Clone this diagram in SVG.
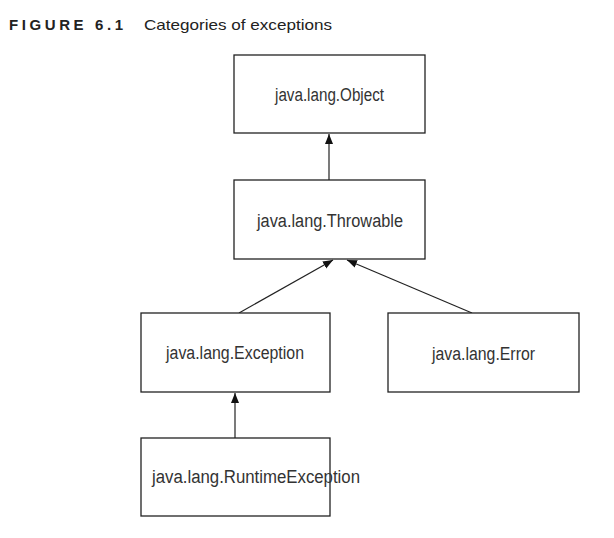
<svg xmlns="http://www.w3.org/2000/svg" width="614" height="538" viewBox="0 0 614 538">
<defs>
<style>
.box{fill:#fff;stroke:#222;stroke-width:1.3}
.lbl{font-family:"Liberation Sans",Arial,sans-serif;font-size:18px;fill:#333;text-anchor:start}
.edge{stroke:#222;stroke-width:1.2;fill:none}
.ttl{font-family:"Liberation Sans",Arial,sans-serif;fill:#222}
</style>
<marker id="ah" markerUnits="userSpaceOnUse" markerWidth="10" markerHeight="10" viewBox="0 0 10 10" refX="10" refY="5" orient="auto">
<path d="M0,1 L10,5 L0,9 Z" fill="#111"/>
</marker>
</defs>
<rect width="614" height="538" fill="#fff"/>
<g id="title">
<text class="ttl" x="9" y="30" font-size="15" font-weight="900" textLength="114" lengthAdjust="spacing">FIGURE 6.1</text>
<text class="ttl" x="144" y="29.5" font-size="15" textLength="188" lengthAdjust="spacingAndGlyphs">Categories of exceptions</text>
</g>
<g id="connectors">
<line class="edge" x1="329" y1="180" x2="329" y2="134" marker-end="url(#ah)"/>
<line class="edge" x1="239" y1="313" x2="333" y2="260" marker-end="url(#ah)"/>
<line class="edge" x1="472" y1="313" x2="347" y2="260" marker-end="url(#ah)"/>
<line class="edge" x1="235" y1="438" x2="235" y2="393" marker-end="url(#ah)"/>
</g>
<g id="object">
<rect class="box" x="234" y="55" width="191" height="78"/>
<text class="lbl" x="275" y="100.5" textLength="109" lengthAdjust="spacingAndGlyphs">java.lang.Object</text>
</g>
<g id="throwable">
<rect class="box" x="234" y="180" width="191" height="79"/>
<text class="lbl" x="257" y="227" textLength="146" lengthAdjust="spacingAndGlyphs">java.lang.Throwable</text>
</g>
<g id="exception">
<rect class="box" x="141" y="313" width="189" height="79"/>
<text class="lbl" x="166" y="359" textLength="138" lengthAdjust="spacingAndGlyphs">java.lang.Exception</text>
</g>
<g id="error">
<rect class="box" x="388" y="313" width="191" height="79"/>
<text class="lbl" x="432" y="360" textLength="103" lengthAdjust="spacingAndGlyphs">java.lang.Error</text>
</g>
<g id="runtime">
<rect class="box" x="141" y="438" width="189" height="78"/>
<text class="lbl" x="152" y="483" textLength="208" lengthAdjust="spacingAndGlyphs">java.lang.RuntimeException</text>
</g>
</svg>
